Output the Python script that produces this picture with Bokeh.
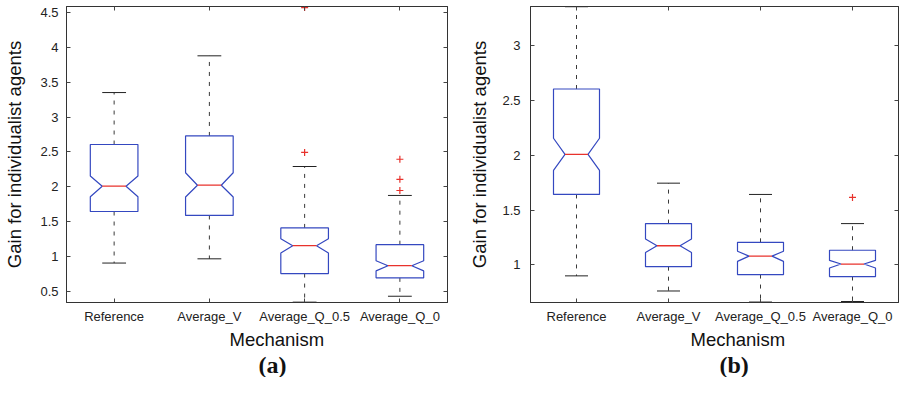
import numpy as np
from bokeh.plotting import figure
from bokeh.layouts import row
from bokeh.models import Range1d, FixedTicker, LinearAxis, Title
from bokeh.embed import file_html
from bokeh.resources import INLINE

mechanisms = ["Reference", "Average_V", "Average_Q_0.5", "Average_Q_0"]
x_label = "Mechanism"
y_label = "Gain for individualist agents"

# ---- Panel (a) ----
a_lower = [0.902, 0.963, 0.34, 0.425]
a_q1 = [1.643, 1.586, 0.751, 0.689]
a_notch_lo = [1.856, 1.851, 1.048, 0.789]
a_median = [2.007, 2.021, 1.152, 0.864]
a_notch_hi = [2.153, 2.200, 1.251, 0.935]
a_q3 = [2.606, 2.729, 1.407, 1.166]
a_upper = [3.353, 3.881, 2.290, 1.874]
a_out_cat = ["Average_Q_0.5", "Average_Q_0.5", "Average_Q_0", "Average_Q_0", "Average_Q_0"]
a_out_val = [4.575, 2.493, 2.394, 2.106, 1.945]
a_yticks = [0.5, 1, 1.5, 2, 2.5, 3, 3.5, 4, 4.5]
a_ytick_labels = ["0.5", "1", "1.5", "2", "2.5", "3", "3.5", "4", "4.5"]
a_yrange = (0.335, 4.59)

# ---- Panel (b) ----
b_lower = [0.899, 0.761, 0.66, 0.665]
b_q1 = [1.642, 0.983, 0.911, 0.893]
b_notch_lo = [1.861, 1.112, 1.031, 0.971]
b_median = [2.008, 1.174, 1.079, 1.007]
b_notch_hi = [2.155, 1.235, 1.124, 1.040]
b_q3 = [2.604, 1.376, 1.205, 1.133]
b_upper = [3.355, 1.745, 1.642, 1.376]
b_out_cat = ["Average_Q_0"]
b_out_val = [1.615]
b_yticks = [1, 1.5, 2, 2.5, 3]
b_ytick_labels = ["1", "1.5", "2", "2.5", "3"]
b_yrange = (0.656, 3.357)

BOX_BLUE = "#3448c0"
MED_RED = "#e8322c"
WHISK = "#3a3a3a"
FRAME = "#333333"
SANS = "Liberation Sans"


def make_panel(lower, q1, nlo, med, nhi, q3, upper, out_cat, out_val,
               yticks, ylabels, yr, tag, width, border_left, border_right,
               ylab_standoff, ytick_standoff, mech_offset, tag_offset):
    p = figure(width=width, height=377, x_range=Range1d(0.5, 4.5), y_range=Range1d(*yr),
               output_backend="svg", toolbar_location=None,
               min_border_left=border_left, min_border_right=border_right,
               min_border_top=6, min_border_bottom=70)
    p.xgrid.grid_line_color = None
    p.ygrid.grid_line_color = None
    p.outline_line_color = FRAME
    p.outline_line_width = 1
    p.background_fill_color = "white"
    p.border_fill_color = "white"

    pos = np.arange(1, len(mechanisms) + 1, dtype=float)
    bw, nw, cw = 0.25, 0.125, 0.125
    lower, q1, nlo, med, nhi, q3, upper = map(np.asarray, (lower, q1, nlo, med, nhi, q3, upper))

    # whiskers (dashed) and caps
    p.segment(x0=pos, y0=q3, x1=pos, y1=upper, line_color=WHISK, line_width=1, line_dash="4 6")
    p.segment(x0=pos, y0=q1, x1=pos, y1=lower, line_color=WHISK, line_width=1, line_dash="4 6")
    p.segment(x0=pos - cw, y0=upper, x1=pos + cw, y1=upper, line_color="#222222", line_width=1)
    p.segment(x0=pos - cw, y0=lower, x1=pos + cw, y1=lower, line_color="#222222", line_width=1)

    # notched boxes
    xs, ys = [], []
    for i, x in enumerate(pos):
        xs.append([x - bw, x + bw, x + bw, x + nw, x + bw, x + bw, x - bw, x - bw, x - nw, x - bw, x - bw])
        ys.append([q1[i], q1[i], nlo[i], med[i], nhi[i], q3[i], q3[i], nhi[i], med[i], nlo[i], q1[i]])
    p.patches(xs, ys, fill_color="white", fill_alpha=0.0, line_color=BOX_BLUE, line_width=1.2)

    # medians
    p.segment(x0=pos - nw, y0=med, x1=pos + nw, y1=med, line_color=MED_RED, line_width=1.3)

    # outliers
    ox = [mechanisms.index(c) + 1 for c in out_cat]
    p.scatter(ox, out_val, marker="cross", size=7, line_color=MED_RED, line_width=1.2)

    # axes
    xt = FixedTicker(ticks=list(pos))
    yt = FixedTicker(ticks=yticks)
    xover = {float(k): v for k, v in zip(pos, mechanisms)}
    yover = {float(k): v for k, v in zip(yticks, ylabels)}

    for ax in (p.xaxis[0], p.yaxis[0]):
        ax.major_tick_in = 4
        ax.major_tick_out = 0
        ax.minor_tick_line_color = None
        ax.axis_line_color = FRAME
        ax.major_tick_line_color = "#444444"
        ax.major_label_text_font = SANS
        ax.major_label_text_font_size = "13px"
        ax.major_label_text_color = "#222222"

    p.xaxis[0].ticker = xt
    p.xaxis[0].major_label_overrides = xover
    p.xaxis[0].major_label_standoff = 6

    p.yaxis[0].ticker = yt
    p.yaxis[0].major_label_overrides = yover
    p.yaxis[0].major_label_standoff = ytick_standoff
    p.yaxis[0].axis_label = y_label
    p.yaxis[0].axis_label_text_font = SANS
    p.yaxis[0].axis_label_text_font_size = "18.5px"
    p.yaxis[0].axis_label_text_font_style = "normal"
    p.yaxis[0].axis_label_text_color = "#111111"
    p.yaxis[0].axis_label_standoff = ylab_standoff

    # mirrored inner ticks on top and right (no labels)
    for side, tk, ticks in (("above", xt, list(pos)), ("right", yt, yticks)):
        ax = LinearAxis(ticker=tk, major_label_overrides={float(t): "" for t in ticks},
                        major_label_standoff=0, major_tick_in=4, major_tick_out=0,
                        minor_tick_line_color=None, axis_line_color=FRAME,
                        major_tick_line_color="#444444")
        p.add_layout(ax, side)

    p.add_layout(Title(text=x_label, align="left", offset=mech_offset, standoff=0,
                       text_font=SANS, text_font_size="18.5px", text_font_style="normal",
                       text_color="#111111"), "below")
    p.add_layout(Title(text=tag, align="left", offset=tag_offset, standoff=0,
                       text_font="Liberation Serif", text_font_size="24px", text_font_style="bold",
                       text_color="#111111"), "below")
    return p


pa = make_panel(a_lower, a_q1, a_notch_lo, a_median, a_notch_hi, a_q3, a_upper, a_out_cat, a_out_val,
                a_yticks, a_ytick_labels, a_yrange, "(a)", 458, 66, 11, 12, 8, 163, 192)
pb = make_panel(b_lower, b_q1, b_notch_lo, b_median, b_notch_hi, b_q3, b_upper, b_out_cat, b_out_val,
                b_yticks, b_ytick_labels, b_yrange, "(b)", 442, 72, 2, 9, 10, 160, 189)

layout = row(pa, pb)
open("out.html", "w").write(file_html(layout, INLINE))
